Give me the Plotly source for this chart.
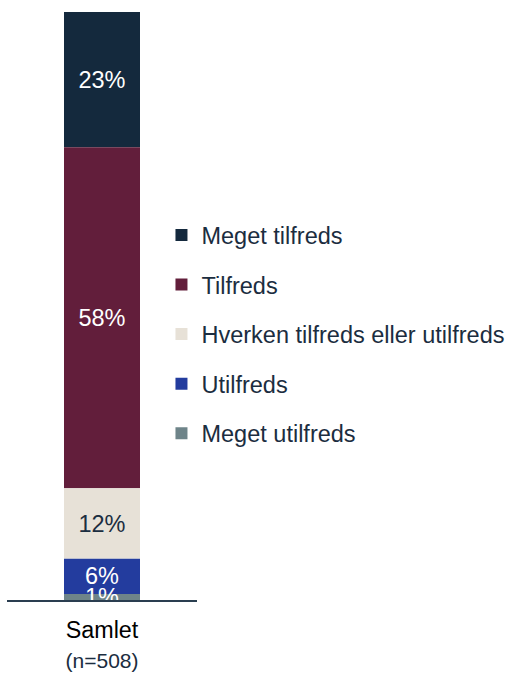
import numpy as np
import plotly.graph_objects as go

categories = ["Samlet"]
tick_labels = ["Samlet<br><span style='font-size:21px;color:#1B2D40'>(n=508)</span>"]
# bottom to top
series_names = ["Meget utilfreds", "Utilfreds", "Hverken tilfreds eller utilfreds", "Tilfreds", "Meget tilfreds"]
meget_utilfreds = [1]
utilfreds = [6]
hverken = [12]
tilfreds = [58]
meget_tilfreds = [23]

values = [meget_utilfreds, utilfreds, hverken, tilfreds, meget_tilfreds]
colors = ["#6E8489", "#233C9E", "#E7E1D7", "#621E3B", "#14293D"]
text_colors = ["white", "white", "#1B2D40", "white", "white"]

arr = np.array(values, dtype=float)
bases = np.vstack([np.zeros(arr.shape[1]), np.cumsum(arr, axis=0)[:-1]])

fig = go.Figure()
# draw top segment first so the small bottom labels end up on top
for i in reversed(range(len(series_names))):
    vals = values[i]
    fig.add_trace(go.Bar(
        x=categories, y=vals, base=list(bases[i]), name=series_names[i],
        marker=dict(color=colors[i], line=dict(width=0)),
        text=[f"{v}%" for v in vals],
        textposition="inside", insidetextanchor="middle",
        constraintext="none",
        textfont=dict(color=text_colors[i], size=23.5, family="Liberation Sans, Arial"),
        width=0.4,
        legendgroup=series_names[i],
        cliponaxis=True,
    ))

fig.update_layout(
    barmode="overlay",
    width=511, height=674,
    margin=dict(l=7, r=314, t=12, b=74, autoexpand=False),
    plot_bgcolor="white", paper_bgcolor="white",
    font=dict(family="Liberation Sans, Arial", size=23, color="#1B2D40"),
    showlegend=True,
    legend=dict(
        x=0.813, xanchor="left", y=0.452, yanchor="middle",
        traceorder="grouped", tracegroupgap=16,
        font=dict(size=23.5, color="#1B2D40", family="Liberation Sans, Arial"),
        bgcolor="rgba(0,0,0,0)",
    ),
    xaxis=dict(
        tickmode="array", tickvals=categories, ticktext=tick_labels,
        showline=True, linecolor="#2A3E50", linewidth=2,
        showgrid=False, ticks="", range=[-0.5, 0.5],
        ticklabelstandoff=8,
        tickfont=dict(size=23.3, color="black"),
    ),
    yaxis=dict(range=[0, 100], visible=False, showgrid=False, zeroline=False),
)

fig.write_html("out.html", config={"displayModeBar": False},
               post_script="document.body.style.margin='0';")
